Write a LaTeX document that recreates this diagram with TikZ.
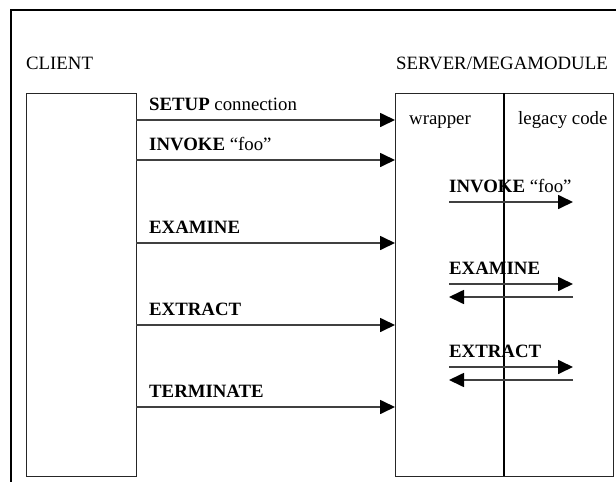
\documentclass[tikz,border=0pt]{standalone}
\usepackage{fontspec}
\setmainfont{Liberation Serif}
\usetikzlibrary{arrows.meta}
\begin{document}
\begin{tikzpicture}[x=1pt,y=-1pt,
  font=\fontsize{18.8}{22}\selectfont,
  frame/.style={draw=black, line width=2.2pt},
  box/.style={draw=black!85, line width=1.3pt, inner sep=0pt, anchor=north west},
  divider/.style={draw=black, line width=1.3pt},
  msg/.style={draw=black!75, line width=1.7pt,
    -{Triangle[length=15pt,width=14pt,color=black]}},
  lbl/.style={inner sep=0pt, anchor=base west}]
\useasboundingbox (0,0) rectangle (616,482);
% outer frame, open to the right and below
\draw[frame] (11,484) -- (11,10) -- (618,10);

% column titles
\node[lbl] (clienttitle) at (26,69) {CLIENT};
\node[lbl] (servertitle) at (396,69) {SERVER/MEGAMODULE};

% the two parties
\node[box, minimum width=110pt, minimum height=383pt] (client) at (26,93) {};
\node[box, minimum width=218pt, minimum height=383pt] (server) at (395,93) {};
\coordinate (divtop) at (504,93);
\coordinate (divbot) at (504,476);
\draw[divider] (divtop) -- (divbot);
\node[lbl] (wrapper) at (409,124) {wrapper};
\node[lbl] (legacy) at (518,124) {legacy code};

% client to server requests
\foreach \y/\name/\txt in {120/setup/{\textbf{SETUP} connection},
                           160/invoke/{\textbf{INVOKE} “foo”},
                           243/examine/{\textbf{EXAMINE}},
                           325/extract/{\textbf{EXTRACT}},
                           407/terminate/{\textbf{TERMINATE}}}{
  \coordinate (\name-a) at (136,\y);
  \coordinate (\name-b) at (395,\y);
  \draw[msg] (\name-a) -- (\name-b);
  \node[lbl] (\name-label) at ([yshift=10pt]\name-a -| 149,0) {\txt};
}

% wrapper to legacy code calls
\coordinate (inv-w) at (449,202);
\coordinate (inv-l) at (573,202);
\draw[msg] (inv-w) -- (inv-l);
\node[lbl] (inv-label) at (449,192) {\textbf{INVOKE} “foo”};

\coordinate (exa-w) at (449,284);
\coordinate (exa-l) at (573,284);
\coordinate (exa-w2) at (449,297);
\coordinate (exa-l2) at (573,297);
\draw[msg] (exa-w) -- (exa-l);
\draw[msg] (exa-l2) -- (exa-w2);
\node[lbl] (exa-label) at (449,274) {\textbf{EXAMINE}};

\coordinate (ext-w) at (449,367);
\coordinate (ext-l) at (573,367);
\coordinate (ext-w2) at (449,380);
\coordinate (ext-l2) at (573,380);
\draw[msg] (ext-w) -- (ext-l);
\draw[msg] (ext-l2) -- (ext-w2);
\node[lbl] (ext-label) at (449,357) {\textbf{EXTRACT}};
\end{tikzpicture}
\end{document}
